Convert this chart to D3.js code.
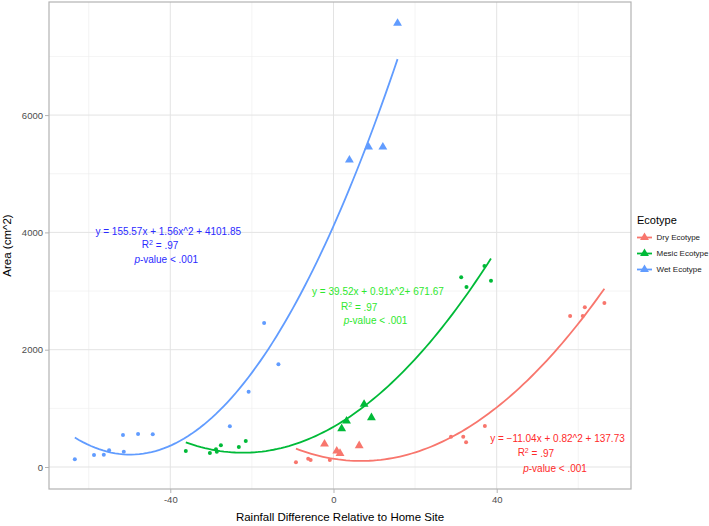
<!DOCTYPE html>
<html>
<head>
<meta charset="utf-8">
<script src="https://cdn.jsdelivr.net/npm/d3@7/dist/d3.min.js"></script>
<style>
  body { margin: 0; background: #fff; }
  svg { font-family: "Liberation Sans", Arial, sans-serif; }
</style>
</head>
<body>
<div class="chart"></div>
<script>
// data
const ecotypes = ['Dry Ecotype', 'Mesic Ecotype', 'Wet Ecotype']
const colors = ['#F8766D', '#00BA38', '#619CFF']

const dryCircles = [[-9.2, 80], [-6.2, 142], [-5.6, 119], [-0.9, 119], [28.8, 517], [31.8, 517],
    [32.5, 421], [37.1, 699], [58.0, 2575], [61.1, 2575], [61.6, 2723], [66.4, 2796]]
const dryTriangles = [[-2.2, 392], [0.8, 273], [1.6, 233], [6.3, 363]]

const mesicCircles = [[-36.2, 273], [-30.3, 239], [-28.8, 302], [-28.6, 261], [-27.6, 370], [-23.2, 341],
    [-21.5, 443], [31.3, 3234], [32.6, 3069], [37.0, 3427], [38.6, 3177]]
const mesicTriangles = [[2.0, 653], [3.2, 784], [7.5, 1069], [9.3, 841]]

const wetCircles = [[-63.4, 131], [-58.7, 205], [-56.3, 210], [-55.0, 284], [-51.6, 546], [-51.4, 261],
    [-47.9, 563], [-44.3, 557], [-25.4, 694], [-20.8, 1284], [-17.0, 2455], [-13.5, 1751]]
const wetTriangles = [[3.9, 5234], [8.6, 5456], [12.1, 5456], [15.7, 7565]]

const xTicks = [-40, 0, 40]
const xMinor = [-60, -20, 20, 60]
const yTicks = [0, 2000, 4000, 6000]
const yMinor = [1000, 3000, 5000, 7000]

// annotation line positions (data units)
const wetNotes = [[-40.5, 4020], [-42.5, 3800], [-41.0, 3540]]
const mesicNotes = [[10.9, 2985], [6.3, 2740], [10.3, 2500]]
const dryNotes = [[54.9, 490], [49.6, 245], [54.3, -20]]
const eqTexts = ['y = \u221211.04x + 0.82^2 + 137.73', 'y = 39.52x + 0.91x^2+ 671.67', 'y = 155.57x + 1.56x^2 + 4101.85']
const noteColors = ['#ff2a2a', '#2ee82e', '#2a2aff']

const groups = [
    { circles: dryCircles, triangles: dryTriangles, notes: dryNotes },
    { circles: mesicCircles, triangles: mesicTriangles, notes: mesicNotes },
    { circles: wetCircles, triangles: wetTriangles, notes: wetNotes },
]

let W = 709, H = 526
let pLeft = 49, pRight = 631, pTop = 2, pBottom = 489

let x = d3.scaleLinear().domain([-69.73, 72.92]).range([pLeft, pRight])
let y = d3.scaleLinear().domain([-375, 7928]).range([pBottom, pTop])

// quadratic least squares, like geom_smooth(method = lm, y ~ poly(x, 2))
let fitQuad = (pts) => {
    let s = [0, 0, 0, 0, 0], t = [0, 0, 0]
    for (let [px, py] of pts) {
        for (let k = 0; k < 5; k++) s[k] += Math.pow(px, k)
        for (let k = 0; k < 3; k++) t[k] += py * Math.pow(px, k)
    }
    let m = [[s[0], s[1], s[2], t[0]], [s[1], s[2], s[3], t[1]], [s[2], s[3], s[4], t[2]]]
    for (let i = 0; i < 3; i++) {
        for (let j = i + 1; j < 3; j++) {
            let f = m[j][i] / m[i][i]
            for (let k = i; k < 4; k++) m[j][k] -= f * m[i][k]
        }
    }
    let c = [0, 0, 0]
    for (let i = 2; i >= 0; i--) {
        let v = m[i][3]
        for (let k = i + 1; k < 3; k++) v -= m[i][k] * c[k]
        c[i] = v / m[i][i]
    }
    return c
}

let svg = d3.select('.chart')
    .append('svg')
    .attr('width', W)
    .attr('height', H)

// grid
let grid = svg.append('g')
grid.selectAll('.xmin').data(xMinor).enter().append('line')
    .attr('x1', d => x(d)).attr('x2', d => x(d)).attr('y1', pTop).attr('y2', pBottom)
    .attr('stroke', '#ededed').attr('stroke-width', 0.6)
grid.selectAll('.ymin').data(yMinor).enter().append('line')
    .attr('y1', d => y(d)).attr('y2', d => y(d)).attr('x1', pLeft).attr('x2', pRight)
    .attr('stroke', '#ededed').attr('stroke-width', 0.6)
grid.selectAll('.xmaj').data(xTicks).enter().append('line')
    .attr('x1', d => x(d)).attr('x2', d => x(d)).attr('y1', pTop).attr('y2', pBottom)
    .attr('stroke', '#e3e3e3').attr('stroke-width', 1)
grid.selectAll('.ymaj').data(yTicks).enter().append('line')
    .attr('y1', d => y(d)).attr('y2', d => y(d)).attr('x1', pLeft).attr('x2', pRight)
    .attr('stroke', '#e3e3e3').attr('stroke-width', 1)

// fitted curves
let line = d3.line().x(d => x(d[0])).y(d => y(d[1]))
groups.forEach((g, i) => {
    let pts = g.circles.concat(g.triangles)
    let c = fitQuad(pts)
    let ext = d3.extent(pts, d => d[0])
    let curve = d3.range(0, 81).map(k => {
        let vx = ext[0] + (ext[1] - ext[0]) * k / 80
        return [vx, c[0] + c[1] * vx + c[2] * vx * vx]
    })
    svg.append('path')
        .datum(curve)
        .attr('d', line)
        .attr('fill', 'none')
        .attr('stroke', colors[i])
        .attr('stroke-width', 1.8)
})

// points
let tri = d3.symbol().type(d3.symbolTriangle).size(34)
groups.forEach((g, i) => {
    svg.append('g').selectAll('circle').data(g.circles).enter().append('circle')
        .attr('cx', d => x(d[0])).attr('cy', d => y(d[1])).attr('r', 2)
        .attr('fill', colors[i])
    svg.append('g').selectAll('path').data(g.triangles).enter().append('path')
        .attr('d', tri)
        .attr('transform', d => `translate(${x(d[0])},${y(d[1])})`)
        .attr('fill', colors[i])
})

// annotations
groups.forEach((g, i) => {
    let n = g.notes
    svg.append('text')
        .attr('x', x(n[0][0])).attr('y', y(n[0][1])).attr('dy', '0.35em')
        .attr('text-anchor', 'middle').style('font-size', '10px')
        .attr('fill', noteColors[i])
        .text(eqTexts[i])
    let t1 = svg.append('text')
        .attr('x', x(n[1][0])).attr('y', y(n[1][1])).attr('dy', '0.35em')
        .attr('text-anchor', 'middle').style('font-size', '10px')
        .attr('fill', noteColors[i])
    t1.append('tspan').text('R')
    t1.append('tspan').attr('dy', '-0.4em').style('font-size', '7px').text('2')
    t1.append('tspan').attr('dy', '0.4em').text(i == 0 ? ' =  .97' : ' = .97')
    let t2 = svg.append('text')
        .attr('x', x(n[2][0])).attr('y', y(n[2][1])).attr('dy', '0.35em')
        .attr('text-anchor', 'middle').style('font-size', '10px')
        .attr('fill', noteColors[i])
    t2.append('tspan').style('font-style', 'italic').text('p')
    t2.append('tspan').text(i == 0 ? '-value <  .001' : '-value < .001')
})

// panel border
svg.append('rect')
    .attr('x', pLeft).attr('y', pTop).attr('width', pRight - pLeft).attr('height', pBottom - pTop)
    .attr('fill', 'none').attr('stroke', '#b3b3b3').attr('stroke-width', 1.2)

// axes
let xAxis = svg.append('g')
    .attr('transform', `translate(0,${pBottom})`)
    .call(d3.axisBottom(x).tickValues(xTicks).tickFormat(d => String(d)).tickSize(4).tickPadding(3))
let yAxis = svg.append('g')
    .attr('transform', `translate(${pLeft},0)`)
    .call(d3.axisLeft(y).tickValues(yTicks).tickFormat(d => String(d)).tickSize(4).tickPadding(2))
for (let a of [xAxis, yAxis]) {
    a.select('.domain').remove()
    a.selectAll('line').attr('stroke', '#b3b3b3')
    a.selectAll('text').attr('fill', '#4d4d4d')
        .style('font-size', '9.5px').style('font-family', '"Liberation Sans", Arial, sans-serif')
}

svg.append('text')
    .attr('x', (pLeft + pRight) / 2).attr('y', 521)
    .attr('text-anchor', 'middle').style('font-size', '11.5px')
    .text('Rainfall Difference Relative to Home Site')
svg.append('text')
    .attr('transform', `translate(11,${(pTop + pBottom) / 2}) rotate(-90)`)
    .attr('text-anchor', 'middle').style('font-size', '11.5px')
    .text('Area (cm^2)')

// legend
let lg = svg.append('g').attr('transform', 'translate(637,0)')
lg.append('text').attr('x', 0).attr('y', 224).style('font-size', '11px').text('Ecotype')
ecotypes.forEach((e, i) => {
    let cy = 237.5 + i * 16
    lg.append('line').attr('x1', 0).attr('x2', 15).attr('y1', cy).attr('y2', cy)
        .attr('stroke', colors[i]).attr('stroke-width', 1.8)
    lg.append('path').attr('d', tri).attr('transform', `translate(7.5,${cy})`).attr('fill', colors[i])
    lg.append('text').attr('x', 19.5).attr('y', cy).attr('dy', '0.35em')
        .style('font-size', '8px').attr('fill', '#1a1a1a').text(e)
})
</script>
</body>
</html>
